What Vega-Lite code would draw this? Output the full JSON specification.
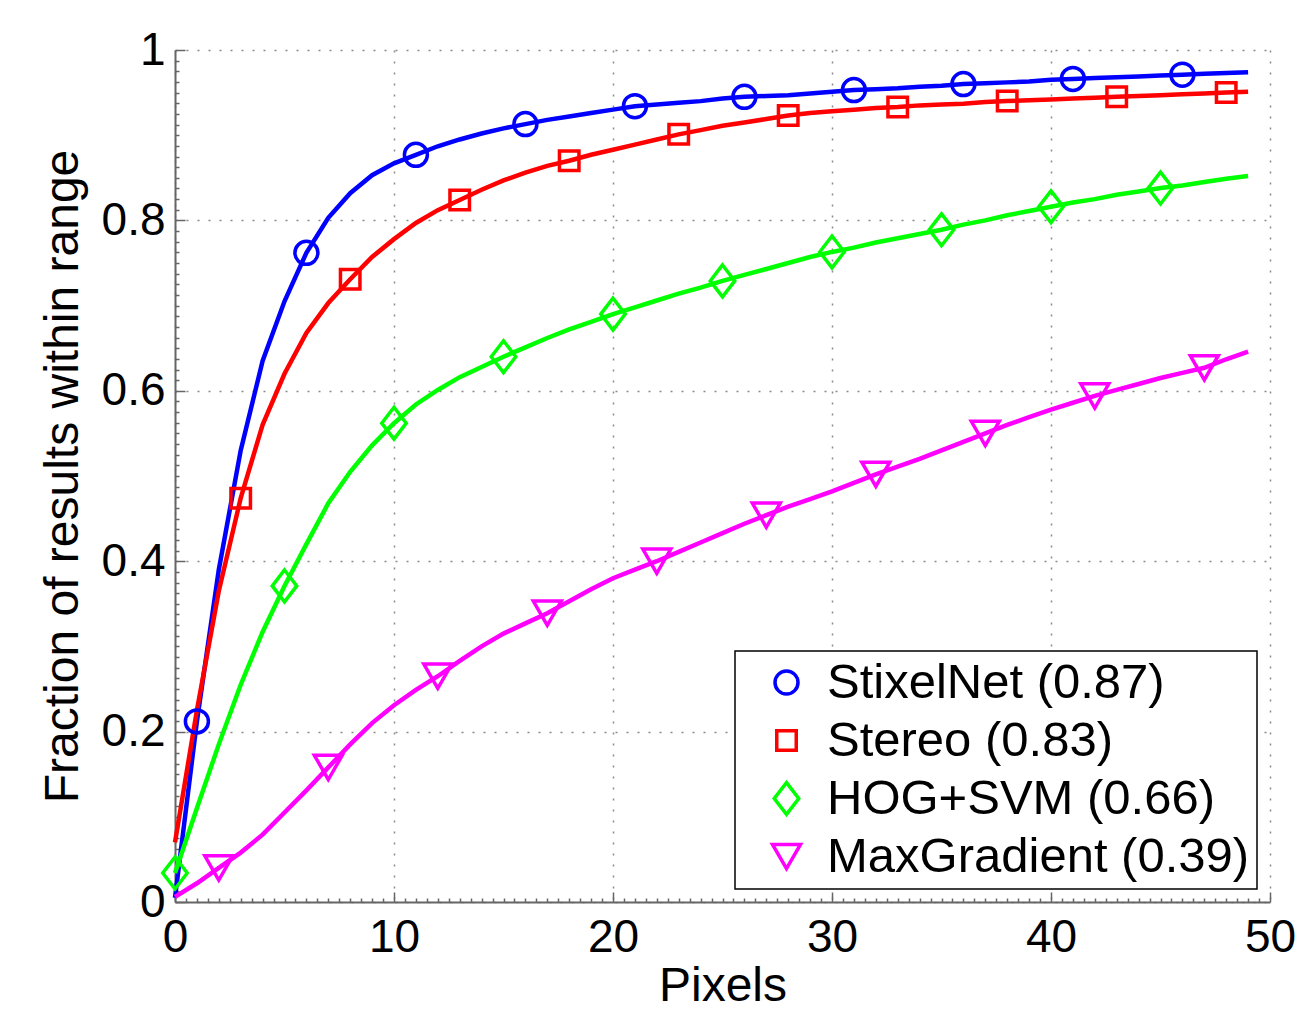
{
  "$schema": "https://vega.github.io/schema/vega-lite/v6.json",
  "width": 1095,
  "height": 852,
  "autosize": {"type": "none"},
  "padding": {"left": 175, "top": 50, "right": 34, "bottom": 117},
  "background": "white",
  "config": {
    "view": {"stroke": null},
    "font": "Liberation Sans",
    "legend": {
      "orient": "bottom-right",
      "offset": 13,
      "padding": 7,
      "strokeColor": "black",
      "strokeWidth": 1.5,
      "fillColor": "white",
      "cornerRadius": 0,
      "labelFont": "Liberation Sans",
      "labelFontSize": 49,
      "labelColor": "black",
      "labelLimit": 800,
      "labelOffset": 16,
      "symbolOffset": 20,
      "rowPadding": 8,
      "symbolStrokeWidth": 3.5
    }
  },
  "data": {
    "values": [
      {"method": "StixelNet (0.87)", "pixels": 0, "fraction": 0.005, "marker": 0},
      {"method": "StixelNet (0.87)", "pixels": 1, "fraction": 0.212, "marker": 1},
      {"method": "StixelNet (0.87)", "pixels": 2, "fraction": 0.39, "marker": 0},
      {"method": "StixelNet (0.87)", "pixels": 3, "fraction": 0.53, "marker": 0},
      {"method": "StixelNet (0.87)", "pixels": 4, "fraction": 0.635, "marker": 0},
      {"method": "StixelNet (0.87)", "pixels": 5, "fraction": 0.705, "marker": 0},
      {"method": "StixelNet (0.87)", "pixels": 6, "fraction": 0.762, "marker": 1},
      {"method": "StixelNet (0.87)", "pixels": 7, "fraction": 0.803, "marker": 0},
      {"method": "StixelNet (0.87)", "pixels": 8, "fraction": 0.832, "marker": 0},
      {"method": "StixelNet (0.87)", "pixels": 9, "fraction": 0.853, "marker": 0},
      {"method": "StixelNet (0.87)", "pixels": 10, "fraction": 0.867, "marker": 0},
      {"method": "StixelNet (0.87)", "pixels": 11, "fraction": 0.877, "marker": 1},
      {"method": "StixelNet (0.87)", "pixels": 12, "fraction": 0.887, "marker": 0},
      {"method": "StixelNet (0.87)", "pixels": 13, "fraction": 0.895, "marker": 0},
      {"method": "StixelNet (0.87)", "pixels": 14, "fraction": 0.902, "marker": 0},
      {"method": "StixelNet (0.87)", "pixels": 15, "fraction": 0.908, "marker": 0},
      {"method": "StixelNet (0.87)", "pixels": 16, "fraction": 0.913, "marker": 1},
      {"method": "StixelNet (0.87)", "pixels": 17, "fraction": 0.918, "marker": 0},
      {"method": "StixelNet (0.87)", "pixels": 18, "fraction": 0.922, "marker": 0},
      {"method": "StixelNet (0.87)", "pixels": 19, "fraction": 0.926, "marker": 0},
      {"method": "StixelNet (0.87)", "pixels": 20, "fraction": 0.930, "marker": 0},
      {"method": "StixelNet (0.87)", "pixels": 21, "fraction": 0.934, "marker": 1},
      {"method": "StixelNet (0.87)", "pixels": 22, "fraction": 0.936, "marker": 0},
      {"method": "StixelNet (0.87)", "pixels": 23, "fraction": 0.938, "marker": 0},
      {"method": "StixelNet (0.87)", "pixels": 24, "fraction": 0.940, "marker": 0},
      {"method": "StixelNet (0.87)", "pixels": 25, "fraction": 0.943, "marker": 0},
      {"method": "StixelNet (0.87)", "pixels": 26, "fraction": 0.945, "marker": 1},
      {"method": "StixelNet (0.87)", "pixels": 27, "fraction": 0.946, "marker": 0},
      {"method": "StixelNet (0.87)", "pixels": 28, "fraction": 0.947, "marker": 0},
      {"method": "StixelNet (0.87)", "pixels": 29, "fraction": 0.949, "marker": 0},
      {"method": "StixelNet (0.87)", "pixels": 30, "fraction": 0.951, "marker": 0},
      {"method": "StixelNet (0.87)", "pixels": 31, "fraction": 0.953, "marker": 1},
      {"method": "StixelNet (0.87)", "pixels": 32, "fraction": 0.954, "marker": 0},
      {"method": "StixelNet (0.87)", "pixels": 33, "fraction": 0.955, "marker": 0},
      {"method": "StixelNet (0.87)", "pixels": 34, "fraction": 0.957, "marker": 0},
      {"method": "StixelNet (0.87)", "pixels": 35, "fraction": 0.958, "marker": 0},
      {"method": "StixelNet (0.87)", "pixels": 36, "fraction": 0.960, "marker": 1},
      {"method": "StixelNet (0.87)", "pixels": 37, "fraction": 0.961, "marker": 0},
      {"method": "StixelNet (0.87)", "pixels": 38, "fraction": 0.962, "marker": 0},
      {"method": "StixelNet (0.87)", "pixels": 39, "fraction": 0.963, "marker": 0},
      {"method": "StixelNet (0.87)", "pixels": 40, "fraction": 0.965, "marker": 0},
      {"method": "StixelNet (0.87)", "pixels": 41, "fraction": 0.966, "marker": 1},
      {"method": "StixelNet (0.87)", "pixels": 42, "fraction": 0.967, "marker": 0},
      {"method": "StixelNet (0.87)", "pixels": 43, "fraction": 0.968, "marker": 0},
      {"method": "StixelNet (0.87)", "pixels": 44, "fraction": 0.969, "marker": 0},
      {"method": "StixelNet (0.87)", "pixels": 45, "fraction": 0.970, "marker": 0},
      {"method": "StixelNet (0.87)", "pixels": 46, "fraction": 0.971, "marker": 1},
      {"method": "StixelNet (0.87)", "pixels": 47, "fraction": 0.972, "marker": 0},
      {"method": "StixelNet (0.87)", "pixels": 48, "fraction": 0.973, "marker": 0},
      {"method": "StixelNet (0.87)", "pixels": 49, "fraction": 0.974, "marker": 0},

      {"method": "Stereo (0.83)", "pixels": 0, "fraction": 0.07, "marker": 0},
      {"method": "Stereo (0.83)", "pixels": 1, "fraction": 0.225, "marker": 0},
      {"method": "Stereo (0.83)", "pixels": 2, "fraction": 0.365, "marker": 0},
      {"method": "Stereo (0.83)", "pixels": 3, "fraction": 0.474, "marker": 1},
      {"method": "Stereo (0.83)", "pixels": 4, "fraction": 0.56, "marker": 0},
      {"method": "Stereo (0.83)", "pixels": 5, "fraction": 0.62, "marker": 0},
      {"method": "Stereo (0.83)", "pixels": 6, "fraction": 0.668, "marker": 0},
      {"method": "Stereo (0.83)", "pixels": 7, "fraction": 0.703, "marker": 0},
      {"method": "Stereo (0.83)", "pixels": 8, "fraction": 0.731, "marker": 1},
      {"method": "Stereo (0.83)", "pixels": 9, "fraction": 0.757, "marker": 0},
      {"method": "Stereo (0.83)", "pixels": 10, "fraction": 0.778, "marker": 0},
      {"method": "Stereo (0.83)", "pixels": 11, "fraction": 0.797, "marker": 0},
      {"method": "Stereo (0.83)", "pixels": 12, "fraction": 0.812, "marker": 0},
      {"method": "Stereo (0.83)", "pixels": 13, "fraction": 0.824, "marker": 1},
      {"method": "Stereo (0.83)", "pixels": 14, "fraction": 0.836, "marker": 0},
      {"method": "Stereo (0.83)", "pixels": 15, "fraction": 0.847, "marker": 0},
      {"method": "Stereo (0.83)", "pixels": 16, "fraction": 0.856, "marker": 0},
      {"method": "Stereo (0.83)", "pixels": 17, "fraction": 0.864, "marker": 0},
      {"method": "Stereo (0.83)", "pixels": 18, "fraction": 0.870, "marker": 1},
      {"method": "Stereo (0.83)", "pixels": 19, "fraction": 0.877, "marker": 0},
      {"method": "Stereo (0.83)", "pixels": 20, "fraction": 0.883, "marker": 0},
      {"method": "Stereo (0.83)", "pixels": 21, "fraction": 0.889, "marker": 0},
      {"method": "Stereo (0.83)", "pixels": 22, "fraction": 0.895, "marker": 0},
      {"method": "Stereo (0.83)", "pixels": 23, "fraction": 0.901, "marker": 1},
      {"method": "Stereo (0.83)", "pixels": 24, "fraction": 0.906, "marker": 0},
      {"method": "Stereo (0.83)", "pixels": 25, "fraction": 0.911, "marker": 0},
      {"method": "Stereo (0.83)", "pixels": 26, "fraction": 0.915, "marker": 0},
      {"method": "Stereo (0.83)", "pixels": 27, "fraction": 0.919, "marker": 0},
      {"method": "Stereo (0.83)", "pixels": 28, "fraction": 0.923, "marker": 1},
      {"method": "Stereo (0.83)", "pixels": 29, "fraction": 0.926, "marker": 0},
      {"method": "Stereo (0.83)", "pixels": 30, "fraction": 0.928, "marker": 0},
      {"method": "Stereo (0.83)", "pixels": 31, "fraction": 0.930, "marker": 0},
      {"method": "Stereo (0.83)", "pixels": 32, "fraction": 0.932, "marker": 0},
      {"method": "Stereo (0.83)", "pixels": 33, "fraction": 0.933, "marker": 1},
      {"method": "Stereo (0.83)", "pixels": 34, "fraction": 0.935, "marker": 0},
      {"method": "Stereo (0.83)", "pixels": 35, "fraction": 0.936, "marker": 0},
      {"method": "Stereo (0.83)", "pixels": 36, "fraction": 0.937, "marker": 0},
      {"method": "Stereo (0.83)", "pixels": 37, "fraction": 0.939, "marker": 0},
      {"method": "Stereo (0.83)", "pixels": 38, "fraction": 0.940, "marker": 1},
      {"method": "Stereo (0.83)", "pixels": 39, "fraction": 0.941, "marker": 0},
      {"method": "Stereo (0.83)", "pixels": 40, "fraction": 0.942, "marker": 0},
      {"method": "Stereo (0.83)", "pixels": 41, "fraction": 0.943, "marker": 0},
      {"method": "Stereo (0.83)", "pixels": 42, "fraction": 0.944, "marker": 0},
      {"method": "Stereo (0.83)", "pixels": 43, "fraction": 0.945, "marker": 1},
      {"method": "Stereo (0.83)", "pixels": 44, "fraction": 0.946, "marker": 0},
      {"method": "Stereo (0.83)", "pixels": 45, "fraction": 0.947, "marker": 0},
      {"method": "Stereo (0.83)", "pixels": 46, "fraction": 0.948, "marker": 0},
      {"method": "Stereo (0.83)", "pixels": 47, "fraction": 0.949, "marker": 0},
      {"method": "Stereo (0.83)", "pixels": 48, "fraction": 0.950, "marker": 1},
      {"method": "Stereo (0.83)", "pixels": 49, "fraction": 0.951, "marker": 0},

      {"method": "HOG+SVM (0.66)", "pixels": 0, "fraction": 0.034, "marker": 1},
      {"method": "HOG+SVM (0.66)", "pixels": 1, "fraction": 0.11, "marker": 0},
      {"method": "HOG+SVM (0.66)", "pixels": 2, "fraction": 0.185, "marker": 0},
      {"method": "HOG+SVM (0.66)", "pixels": 3, "fraction": 0.255, "marker": 0},
      {"method": "HOG+SVM (0.66)", "pixels": 4, "fraction": 0.317, "marker": 0},
      {"method": "HOG+SVM (0.66)", "pixels": 5, "fraction": 0.371, "marker": 1},
      {"method": "HOG+SVM (0.66)", "pixels": 6, "fraction": 0.42, "marker": 0},
      {"method": "HOG+SVM (0.66)", "pixels": 7, "fraction": 0.468, "marker": 0},
      {"method": "HOG+SVM (0.66)", "pixels": 8, "fraction": 0.505, "marker": 0},
      {"method": "HOG+SVM (0.66)", "pixels": 9, "fraction": 0.536, "marker": 0},
      {"method": "HOG+SVM (0.66)", "pixels": 10, "fraction": 0.562, "marker": 1},
      {"method": "HOG+SVM (0.66)", "pixels": 11, "fraction": 0.584, "marker": 0},
      {"method": "HOG+SVM (0.66)", "pixels": 12, "fraction": 0.601, "marker": 0},
      {"method": "HOG+SVM (0.66)", "pixels": 13, "fraction": 0.616, "marker": 0},
      {"method": "HOG+SVM (0.66)", "pixels": 14, "fraction": 0.628, "marker": 0},
      {"method": "HOG+SVM (0.66)", "pixels": 15, "fraction": 0.640, "marker": 1},
      {"method": "HOG+SVM (0.66)", "pixels": 16, "fraction": 0.651, "marker": 0},
      {"method": "HOG+SVM (0.66)", "pixels": 17, "fraction": 0.662, "marker": 0},
      {"method": "HOG+SVM (0.66)", "pixels": 18, "fraction": 0.672, "marker": 0},
      {"method": "HOG+SVM (0.66)", "pixels": 19, "fraction": 0.681, "marker": 0},
      {"method": "HOG+SVM (0.66)", "pixels": 20, "fraction": 0.690, "marker": 1},
      {"method": "HOG+SVM (0.66)", "pixels": 21, "fraction": 0.698, "marker": 0},
      {"method": "HOG+SVM (0.66)", "pixels": 22, "fraction": 0.706, "marker": 0},
      {"method": "HOG+SVM (0.66)", "pixels": 23, "fraction": 0.714, "marker": 0},
      {"method": "HOG+SVM (0.66)", "pixels": 24, "fraction": 0.721, "marker": 0},
      {"method": "HOG+SVM (0.66)", "pixels": 25, "fraction": 0.729, "marker": 1},
      {"method": "HOG+SVM (0.66)", "pixels": 26, "fraction": 0.736, "marker": 0},
      {"method": "HOG+SVM (0.66)", "pixels": 27, "fraction": 0.743, "marker": 0},
      {"method": "HOG+SVM (0.66)", "pixels": 28, "fraction": 0.750, "marker": 0},
      {"method": "HOG+SVM (0.66)", "pixels": 29, "fraction": 0.757, "marker": 0},
      {"method": "HOG+SVM (0.66)", "pixels": 30, "fraction": 0.763, "marker": 1},
      {"method": "HOG+SVM (0.66)", "pixels": 31, "fraction": 0.768, "marker": 0},
      {"method": "HOG+SVM (0.66)", "pixels": 32, "fraction": 0.774, "marker": 0},
      {"method": "HOG+SVM (0.66)", "pixels": 33, "fraction": 0.779, "marker": 0},
      {"method": "HOG+SVM (0.66)", "pixels": 34, "fraction": 0.784, "marker": 0},
      {"method": "HOG+SVM (0.66)", "pixels": 35, "fraction": 0.789, "marker": 1},
      {"method": "HOG+SVM (0.66)", "pixels": 36, "fraction": 0.795, "marker": 0},
      {"method": "HOG+SVM (0.66)", "pixels": 37, "fraction": 0.800, "marker": 0},
      {"method": "HOG+SVM (0.66)", "pixels": 38, "fraction": 0.806, "marker": 0},
      {"method": "HOG+SVM (0.66)", "pixels": 39, "fraction": 0.811, "marker": 0},
      {"method": "HOG+SVM (0.66)", "pixels": 40, "fraction": 0.816, "marker": 1},
      {"method": "HOG+SVM (0.66)", "pixels": 41, "fraction": 0.821, "marker": 0},
      {"method": "HOG+SVM (0.66)", "pixels": 42, "fraction": 0.825, "marker": 0},
      {"method": "HOG+SVM (0.66)", "pixels": 43, "fraction": 0.830, "marker": 0},
      {"method": "HOG+SVM (0.66)", "pixels": 44, "fraction": 0.834, "marker": 0},
      {"method": "HOG+SVM (0.66)", "pixels": 45, "fraction": 0.838, "marker": 1},
      {"method": "HOG+SVM (0.66)", "pixels": 46, "fraction": 0.841, "marker": 0},
      {"method": "HOG+SVM (0.66)", "pixels": 47, "fraction": 0.845, "marker": 0},
      {"method": "HOG+SVM (0.66)", "pixels": 48, "fraction": 0.849, "marker": 0},
      {"method": "HOG+SVM (0.66)", "pixels": 49, "fraction": 0.852, "marker": 0},

      {"method": "MaxGradient (0.39)", "pixels": 0, "fraction": 0.006, "marker": 0},
      {"method": "MaxGradient (0.39)", "pixels": 1, "fraction": 0.022, "marker": 0},
      {"method": "MaxGradient (0.39)", "pixels": 2, "fraction": 0.04, "marker": 1},
      {"method": "MaxGradient (0.39)", "pixels": 3, "fraction": 0.058, "marker": 0},
      {"method": "MaxGradient (0.39)", "pixels": 4, "fraction": 0.079, "marker": 0},
      {"method": "MaxGradient (0.39)", "pixels": 5, "fraction": 0.105, "marker": 0},
      {"method": "MaxGradient (0.39)", "pixels": 6, "fraction": 0.131, "marker": 0},
      {"method": "MaxGradient (0.39)", "pixels": 7, "fraction": 0.158, "marker": 1},
      {"method": "MaxGradient (0.39)", "pixels": 8, "fraction": 0.185, "marker": 0},
      {"method": "MaxGradient (0.39)", "pixels": 9, "fraction": 0.21, "marker": 0},
      {"method": "MaxGradient (0.39)", "pixels": 10, "fraction": 0.231, "marker": 0},
      {"method": "MaxGradient (0.39)", "pixels": 11, "fraction": 0.249, "marker": 0},
      {"method": "MaxGradient (0.39)", "pixels": 12, "fraction": 0.265, "marker": 1},
      {"method": "MaxGradient (0.39)", "pixels": 13, "fraction": 0.283, "marker": 0},
      {"method": "MaxGradient (0.39)", "pixels": 14, "fraction": 0.3, "marker": 0},
      {"method": "MaxGradient (0.39)", "pixels": 15, "fraction": 0.315, "marker": 0},
      {"method": "MaxGradient (0.39)", "pixels": 16, "fraction": 0.327, "marker": 0},
      {"method": "MaxGradient (0.39)", "pixels": 17, "fraction": 0.339, "marker": 1},
      {"method": "MaxGradient (0.39)", "pixels": 18, "fraction": 0.353, "marker": 0},
      {"method": "MaxGradient (0.39)", "pixels": 19, "fraction": 0.367, "marker": 0},
      {"method": "MaxGradient (0.39)", "pixels": 20, "fraction": 0.38, "marker": 0},
      {"method": "MaxGradient (0.39)", "pixels": 21, "fraction": 0.39, "marker": 0},
      {"method": "MaxGradient (0.39)", "pixels": 22, "fraction": 0.4, "marker": 1},
      {"method": "MaxGradient (0.39)", "pixels": 23, "fraction": 0.411, "marker": 0},
      {"method": "MaxGradient (0.39)", "pixels": 24, "fraction": 0.422, "marker": 0},
      {"method": "MaxGradient (0.39)", "pixels": 25, "fraction": 0.433, "marker": 0},
      {"method": "MaxGradient (0.39)", "pixels": 26, "fraction": 0.444, "marker": 0},
      {"method": "MaxGradient (0.39)", "pixels": 27, "fraction": 0.454, "marker": 1},
      {"method": "MaxGradient (0.39)", "pixels": 28, "fraction": 0.464, "marker": 0},
      {"method": "MaxGradient (0.39)", "pixels": 29, "fraction": 0.473, "marker": 0},
      {"method": "MaxGradient (0.39)", "pixels": 30, "fraction": 0.482, "marker": 0},
      {"method": "MaxGradient (0.39)", "pixels": 31, "fraction": 0.492, "marker": 0},
      {"method": "MaxGradient (0.39)", "pixels": 32, "fraction": 0.502, "marker": 1},
      {"method": "MaxGradient (0.39)", "pixels": 33, "fraction": 0.511, "marker": 0},
      {"method": "MaxGradient (0.39)", "pixels": 34, "fraction": 0.52, "marker": 0},
      {"method": "MaxGradient (0.39)", "pixels": 35, "fraction": 0.53, "marker": 0},
      {"method": "MaxGradient (0.39)", "pixels": 36, "fraction": 0.54, "marker": 0},
      {"method": "MaxGradient (0.39)", "pixels": 37, "fraction": 0.55, "marker": 1},
      {"method": "MaxGradient (0.39)", "pixels": 38, "fraction": 0.56, "marker": 0},
      {"method": "MaxGradient (0.39)", "pixels": 39, "fraction": 0.569, "marker": 0},
      {"method": "MaxGradient (0.39)", "pixels": 40, "fraction": 0.578, "marker": 0},
      {"method": "MaxGradient (0.39)", "pixels": 41, "fraction": 0.586, "marker": 0},
      {"method": "MaxGradient (0.39)", "pixels": 42, "fraction": 0.594, "marker": 1},
      {"method": "MaxGradient (0.39)", "pixels": 43, "fraction": 0.601, "marker": 0},
      {"method": "MaxGradient (0.39)", "pixels": 44, "fraction": 0.608, "marker": 0},
      {"method": "MaxGradient (0.39)", "pixels": 45, "fraction": 0.615, "marker": 0},
      {"method": "MaxGradient (0.39)", "pixels": 46, "fraction": 0.621, "marker": 0},
      {"method": "MaxGradient (0.39)", "pixels": 47, "fraction": 0.627, "marker": 1},
      {"method": "MaxGradient (0.39)", "pixels": 48, "fraction": 0.637, "marker": 0},
      {"method": "MaxGradient (0.39)", "pixels": 49, "fraction": 0.646, "marker": 0}
    ]
  },
  "encoding": {
    "x": {
      "field": "pixels",
      "type": "quantitative",
      "scale": {"domain": [0, 50], "nice": false, "zero": false},
      "axis": {
        "title": "Pixels",
        "titleFont": "Liberation Sans",
        "titleFontSize": 48,
        "titleFontWeight": "normal",
        "titleColor": "black",
        "titlePadding": -4,
        "values": [0,0.5,1,1.5,2,2.5,3,3.5,4,4.5,5,5.5,6,6.5,7,7.5,8,8.5,9,9.5,10,10.5,11,11.5,12,12.5,13,13.5,14,14.5,15,15.5,16,16.5,17,17.5,18,18.5,19,19.5,20,20.5,21,21.5,22,22.5,23,23.5,24,24.5,25,25.5,26,26.5,27,27.5,28,28.5,29,29.5,30,30.5,31,31.5,32,32.5,33,33.5,34,34.5,35,35.5,36,36.5,37,37.5,38,38.5,39,39.5,40,40.5,41,41.5,42,42.5,43,43.5,44,44.5,45,45.5,46,46.5,47,47.5,48,48.5,49,49.5,50],
        "labelExpr": "datum.value % 10 === 0 ? format(datum.value, 'd') : ''",
        "labelOverlap": false,
        "labelFlush": false,
        "labelFont": "Liberation Sans",
        "labelFontSize": 46,
        "labelColor": "black",
        "labelPadding": 23,
        "domainColor": "#666666",
        "domainWidth": 2,
        "tickColor": "#666666",
        "tickWidth": 1.5,
        "tickSize": {"condition": {"test": "datum.value % 10 === 0", "value": -10}, "value": -4},
        "grid": true,
        "gridColor": "#8a8a8a",
        "gridWidth": 1.5,
        "gridDash": [2, 9],
        "gridOpacity": {"condition": {"test": "datum.value % 10 === 0", "value": 1}, "value": 0}
      }
    },
    "y": {
      "field": "fraction",
      "type": "quantitative",
      "scale": {"domain": [0, 1], "nice": false},
      "axis": {
        "title": "Fraction of results within range",
        "titleFont": "Liberation Sans",
        "titleFontSize": 48,
        "titleFontWeight": "normal",
        "titleColor": "black",
        "titlePadding": 14,
        "values": [0,0.0125,0.025,0.0375,0.05,0.0625,0.075,0.0875,0.1,0.1125,0.125,0.1375,0.15,0.1625,0.175,0.1875,0.2,0.2125,0.225,0.2375,0.25,0.2625,0.275,0.2875,0.3,0.3125,0.325,0.3375,0.35,0.3625,0.375,0.3875,0.4,0.4125,0.425,0.4375,0.45,0.4625,0.475,0.4875,0.5,0.5125,0.525,0.5375,0.55,0.5625,0.575,0.5875,0.6,0.6125,0.625,0.6375,0.65,0.6625,0.675,0.6875,0.7,0.7125,0.725,0.7375,0.75,0.7625,0.775,0.7875,0.8,0.8125,0.825,0.8375,0.85,0.8625,0.875,0.8875,0.9,0.9125,0.925,0.9375,0.95,0.9625,0.975,0.9875,1],
        "labelExpr": "abs(datum.value * 5 - round(datum.value * 5)) < 0.000001 ? format(datum.value, '~g') : ''",
        "labelOverlap": false,
        "labelFlush": false,
        "labelFont": "Liberation Sans",
        "labelFontSize": 46,
        "labelColor": "black",
        "labelPadding": 20,
        "domainColor": "#666666",
        "domainWidth": 2,
        "tickColor": "#666666",
        "tickWidth": 1.5,
        "tickSize": {"condition": {"test": "abs(datum.value * 5 - round(datum.value * 5)) < 0.000001", "value": -10}, "value": -4},
        "grid": true,
        "gridColor": "#8a8a8a",
        "gridWidth": 1.5,
        "gridDash": [2, 9],
        "gridOpacity": {"condition": {"test": "abs(datum.value * 5 - round(datum.value * 5)) < 0.000001", "value": 1}, "value": 0}
      }
    },
    "color": {
      "field": "method",
      "type": "nominal",
      "scale": {
        "domain": ["StixelNet (0.87)", "Stereo (0.83)", "HOG+SVM (0.66)", "MaxGradient (0.39)"],
        "range": ["#0000ff", "#ff0000", "#00ff00", "#ff00ff"]
      },
      "legend": {"title": null}
    }
  },
  "layer": [
    {
      "mark": {"type": "line", "strokeWidth": 4.5, "interpolate": "linear"}
    },
    {
      "transform": [{"filter": "datum.marker == 1"}],
      "mark": {"type": "point", "filled": false, "strokeWidth": 3.5, "opacity": 1},
      "encoding": {
        "shape": {
          "field": "method",
          "type": "nominal",
          "scale": {
            "domain": ["StixelNet (0.87)", "Stereo (0.83)", "HOG+SVM (0.66)", "MaxGradient (0.39)"],
            "range": ["circle", "square", "M0,-1.3L1,0L0,1.3L-1,0Z", "triangle-down"]
          },
          "legend": {"title": null}
        },
        "size": {
          "field": "method",
          "type": "nominal",
          "scale": {
            "type": "ordinal",
            "domain": ["StixelNet (0.87)", "Stereo (0.83)", "HOG+SVM (0.66)", "MaxGradient (0.39)"],
            "range": [529, 380, 600, 784]
          },
          "legend": {"title": null}
        }
      }
    }
  ]
}
